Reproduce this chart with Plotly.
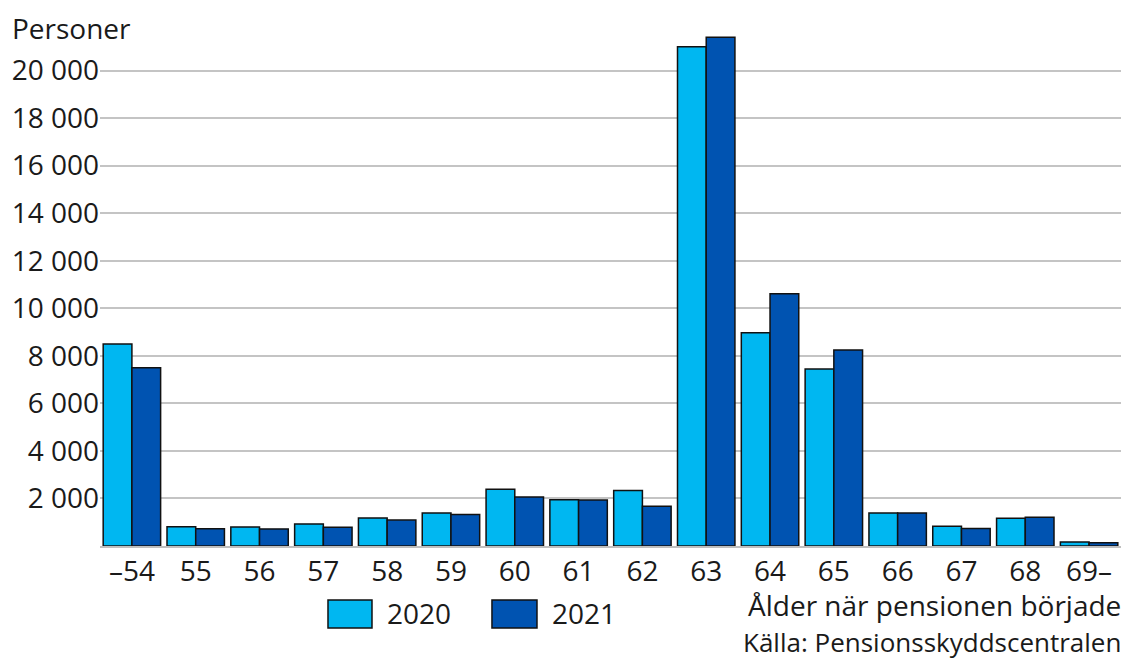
import plotly.graph_objects as go

categories = ["–54", "55", "56", "57", "58", "59", "60", "61", "62", "63", "64", "65", "66", "67", "68", "69–"]
values_2020 = [8500, 810, 800, 930, 1180, 1390, 2390, 1950, 2330, 21000, 8970, 7450, 1390, 830, 1170, 170]
values_2021 = [7500, 730, 720, 790, 1090, 1320, 2060, 1940, 1670, 21400, 10610, 8250, 1390, 740, 1210, 140]
series_names = ["2020", "2021"]
y_ticks = [0, 2000, 4000, 6000, 8000, 10000, 12000, 14000, 16000, 18000, 20000]
y_tick_labels = ["", "2 000", "4 000", "6 000", "8 000", "10 000", "12 000", "14 000", "16 000", "18 000", "20 000"]

FONT = "Open Sans"
FS = 28
TXT = "#1a1a1a"
C2020 = "#00B7F1"
C2021 = "#0053B1"
EDGE = "#111111"

fig = go.Figure()
fig.add_trace(go.Bar(name=series_names[0], x=categories, y=values_2020, showlegend=False,
                     marker=dict(color=C2020, line=dict(color=EDGE, width=1.5))))
fig.add_trace(go.Bar(name=series_names[1], x=categories, y=values_2021, showlegend=False,
                     marker=dict(color=C2021, line=dict(color=EDGE, width=1.5))))

# Legend drawn as large keys (paper coordinates)
shapes = [
    dict(type="rect", xref="paper", yref="paper", x0=0.2233, x1=0.2664, y0=-0.1568, y1=-0.1033,
         fillcolor=C2020, line=dict(color=EDGE, width=1.5)),
    dict(type="rect", xref="paper", yref="paper", x0=0.3839, x1=0.4280, y0=-0.1568, y1=-0.1033,
         fillcolor=C2021, line=dict(color=EDGE, width=1.5)),
]

fig.update_layout(
    width=1116, height=655,
    margin=dict(l=92, r=3, t=15, b=117),
    plot_bgcolor="white", paper_bgcolor="white",
    barmode="group", bargap=0.1, bargroupgap=0,
    font=dict(family=FONT, size=FS, color=TXT),
    xaxis=dict(type="category", showgrid=False, showline=True, linecolor="#bfbfbf", linewidth=1.5,
               ticks="", tickfont=dict(size=FS, color=TXT)),
    yaxis=dict(range=[0, 22000], tickvals=y_ticks, ticktext=y_tick_labels,
               showgrid=True, gridcolor="#c4c4c4", gridwidth=1.5, zeroline=False,
               showline=False, ticks="", tickfont=dict(size=FS, color=TXT)),
    showlegend=False,
    shapes=shapes,
    annotations=[
        dict(text="Personer", x=-0.0881, y=0.990, xref="paper", yref="paper",
             xanchor="left", yanchor="middle", showarrow=False, font=dict(size=FS, color=TXT)),
        dict(text=series_names[0], x=0.2791, y=-0.1281, xref="paper", yref="paper",
             xanchor="left", yanchor="middle", showarrow=False, font=dict(size=FS, color=TXT)),
        dict(text=series_names[1], x=0.4407, y=-0.1281, xref="paper", yref="paper",
             xanchor="left", yanchor="middle", showarrow=False, font=dict(size=FS, color=TXT)),
        dict(text="Ålder när pensionen började", x=1.002, y=-0.1128, xref="paper", yref="paper",
             xanchor="right", yanchor="middle", showarrow=False, font=dict(size=FS, color=TXT)),
        dict(text="Källa: Pensionsskyddscentralen", x=1.002, y=-0.184, xref="paper", yref="paper",
             xanchor="right", yanchor="middle", showarrow=False, font=dict(size=FS - 2, color=TXT)),
    ],
)

fig.write_html("out.html")
